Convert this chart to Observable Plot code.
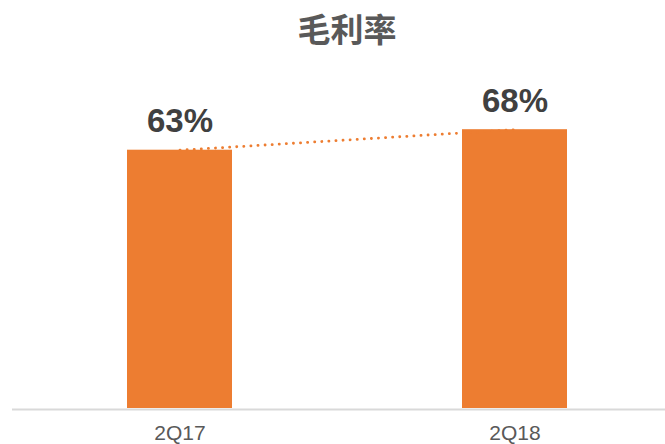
<!DOCTYPE html>
<html>
<head>
<meta charset="utf-8">
<script src="https://cdn.jsdelivr.net/npm/d3@7"></script>
<script src="https://cdn.jsdelivr.net/npm/@observablehq/plot@0.6"></script>
<style>
  html, body { margin: 0; padding: 0; background: #fff; }
  #title { box-sizing: border-box; width: 665px; height: 60px; line-height: 56px; text-align: center; padding-left: 29px;
    font-family: "Noto Sans CJK SC", sans-serif; font-weight: bold; font-size: 33px; color: #595959; }
</style>
</head>
<body>
<div id="title">毛利率</div>
<div id="chart"></div>
<script>
const categories = ["2Q17", "2Q18"];
const values = [63, 68];
const labels = ["63%", "68%"];

const data = categories.map((c, i) => ({ cat: c, value: values[i], label: labels[i] }));

const chart = Plot.plot({
  width: 665,
  height: 384,
  marginLeft: 12,
  marginRight: 0,
  marginTop: 20,
  marginBottom: 36,
  x: { domain: categories, paddingInner: 0.687, paddingOuter: 0.318, align: 0.54, label: null },
  y: { domain: [0, 80], axis: null },
  style: { fontFamily: "'Liberation Sans', Arial, sans-serif", background: "#fff" },
  marks: [
    Plot.barY(data, { x: "cat", y: "value", fill: "#ED7D31" }),
    Plot.ruleY([0], { stroke: "#d9d9d9", strokeWidth: 2, dy: 1 }),
    Plot.line(data, { x: "cat", y: "value", stroke: "#ED7D31", strokeWidth: 2.8,
      strokeDasharray: "0.1 7", strokeLinecap: "round" }),
    Plot.text(data, { x: "cat", y: "value", text: "label", dy: -18, lineAnchor: "bottom",
      fontSize: 33, fontWeight: "bold", fill: "#404040" }),
    Plot.axisX({ tickSize: 0, tickPadding: 17, fontSize: 21, color: "#595959", label: null })
  ]
});
document.getElementById("chart").appendChild(chart);
</script>
</body>
</html>
